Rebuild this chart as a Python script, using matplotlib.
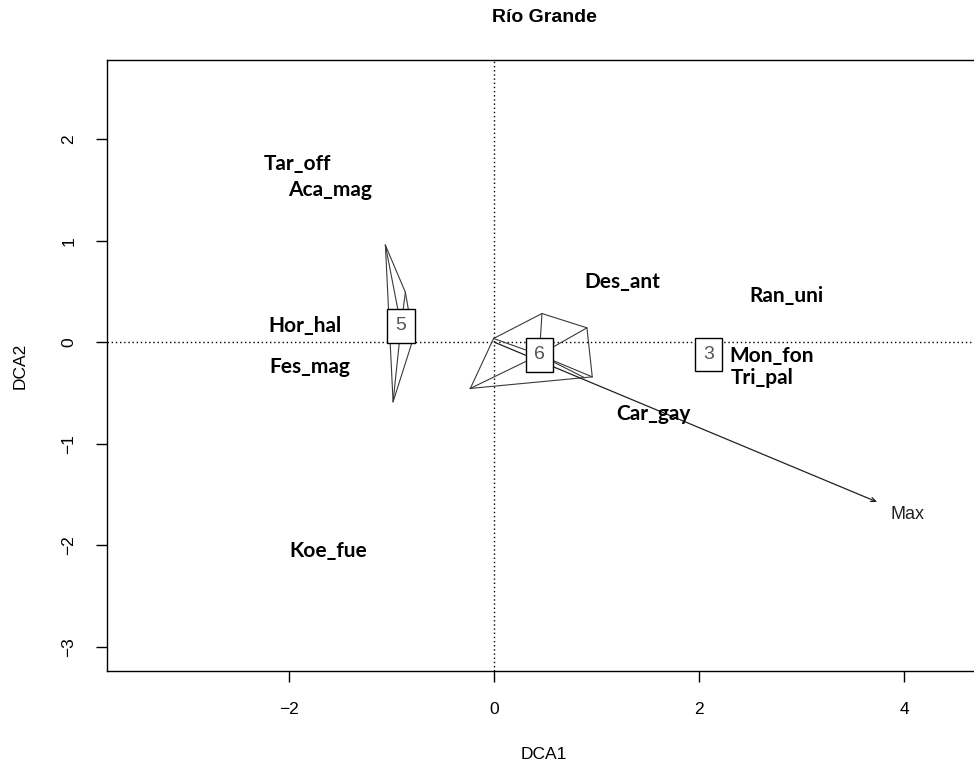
import matplotlib.pyplot as plt

plt.rcParams['font.family'] = ['Liberation Sans', 'DejaVu Sans']

# species scores on the first two DCA axes
species = ['Tar_off', 'Aca_mag', 'Hor_hal', 'Fes_mag', 'Koe_fue',
           'Des_ant', 'Ran_uni', 'Mon_fon', 'Tri_pal', 'Car_gay']
sp_x = [-1.92, -1.60, -1.85, -1.80, -1.62, 1.25, 2.85, 2.71, 2.61, 1.55]
sp_y = [1.76, 1.50, 0.16, -0.24, -2.06, 0.59, 0.45, -0.14, -0.35, -0.71]

# site scores with their cluster
site_x = [-1.063, -0.868, -0.790, -0.988,
          0.465, 0.904, 0.956, -0.234, -0.007, 0.878,
          2.091]
site_y = [0.955, 0.492, 0.039, -0.588,
          0.282, 0.141, -0.342, -0.456, 0.036, -0.349,
          -0.12]
site_grp = [5, 5, 5, 5, 6, 6, 6, 6, 6, 6, 3]

# weighted centroids of each cluster
groups = [5, 6, 3]
cen_x = [-0.910, 0.440, 2.091]
cen_y = [0.160, -0.125, -0.12]

# fitted environmental vector
vec_name = 'Max'
vec_x = 3.737
vec_y = -1.575


def convex_hull(pts):
    pts = sorted(set(pts))
    if len(pts) < 3:
        return pts

    def cross(o, a, b):
        return (a[0] - o[0]) * (b[1] - o[1]) - (a[1] - o[1]) * (b[0] - o[0])

    lower = []
    for p in pts:
        while len(lower) >= 2 and cross(lower[-2], lower[-1], p) <= 0:
            lower.pop()
        lower.append(p)
    upper = []
    for p in reversed(pts):
        while len(upper) >= 2 and cross(upper[-2], upper[-1], p) <= 0:
            upper.pop()
        upper.append(p)
    return lower[:-1] + upper[:-1]


fig = plt.figure(figsize=(9.74, 7.71), dpi=100)
ax = fig.add_axes([107 / 974, 100 / 771, 874 / 974, 611 / 771])

ax.axhline(0, color='black', lw=1, ls=(0, (1, 2)), zorder=1)
ax.axvline(0, color='black', lw=1, ls=(0, (1, 2)), zorder=1)

line_col = '#3a3a3a'
for g, cx, cy in zip(groups, cen_x, cen_y):
    pts = [(x, y) for x, y, s in zip(site_x, site_y, site_grp) if s == g]
    # spider from centroid to every site
    for x, y in pts:
        ax.plot([cx, x], [cy, y], color=line_col, lw=0.8, zorder=2)
    # hull around the sites
    h = convex_hull(pts)
    if len(h) >= 3:
        hx = [p[0] for p in h] + [h[0][0]]
        hy = [p[1] for p in h] + [h[0][1]]
        ax.plot(hx, hy, color=line_col, lw=0.8, zorder=2)

ax.annotate('', xy=(vec_x, vec_y), xytext=(0, 0),
            arrowprops=dict(arrowstyle='->,head_length=0.35,head_width=0.15',
                            color='#222222', lw=0.9, shrinkA=0, shrinkB=0),
            zorder=2)
ax.text(vec_x * 1.08, vec_y * 1.08, vec_name, ha='center', va='center',
        fontsize=13, color='#222222')

for g, cx, cy in zip(groups, cen_x, cen_y):
    ax.text(cx, cy, str(g), ha='center', va='center', fontsize=14,
            color='#555555', zorder=3,
            bbox=dict(boxstyle='square,pad=0.42', fc='white', ec='black', lw=1))

for name, x, y in zip(species, sp_x, sp_y):
    ax.text(x, y, name, ha='center', va='center', fontsize=15,
            fontweight='bold', family=['Lato', 'DejaVu Sans'], zorder=4)

ax.set_xlim(-3.78, 4.75)
ax.set_ylim(-3.24, 2.78)
ax.set_xticks([-2, 0, 2, 4])
ax.set_yticks([-3, -2, -1, 0, 1, 2])
ax.tick_params(direction='out', length=8, width=1, labelsize=12.5, pad=14)
for lab in ax.get_yticklabels():
    lab.set_rotation(90)
    lab.set_va('center')
for sp in ax.spines.values():
    sp.set_linewidth(1)

ax.set_xlabel('DCA1', fontsize=12.5, labelpad=22)
ax.set_ylabel('DCA2', fontsize=12.5, labelpad=24)
fig.text((107 + 874 / 2) / 974, 1 - 18 / 771, 'Río Grande', ha='center',
         va='center', fontsize=14, fontweight='bold')

fig.savefig('out.png', dpi=100)
